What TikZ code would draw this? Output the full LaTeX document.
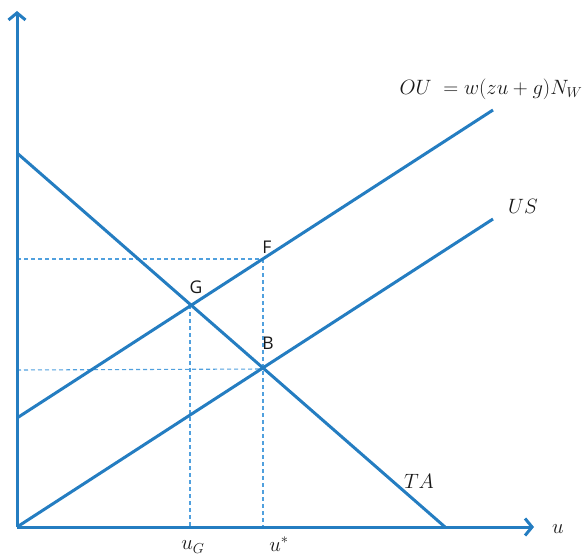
\documentclass[tikz,border=0pt]{standalone}
\usepackage{fontspec}
\setsansfont{Open Sans}
\usetikzlibrary{arrows.meta}
\definecolor{lineblue}{RGB}{36,125,193}
\definecolor{dashblue}{RGB}{80,160,222}
\tikzset{
  axis/.style={draw=lineblue, line width=3pt, -{Straight Barb[length=7pt,width=17pt,line width=3pt]}},
  curve/.style={draw=lineblue, line width=3pt},
  guide/.style={draw=dashblue, line width=1.1pt, dash pattern=on 4pt off 3pt},
  ptlabel/.style={font=\sffamily\fontsize{17.5}{17.5}\selectfont, text=black!90},
  mlabel/.style={font=\fontsize{19.5}{19.5}\selectfont, text=black!90},
}
\begin{document}
\begin{tikzpicture}[x=1pt,y=-1pt]
\useasboundingbox (0,0) rectangle (585,556);
% coordinates
\coordinate (O) at (17,527);
\coordinate (ytop) at (17,11);
\coordinate (xend) at (534,527);
\coordinate (TAs) at (17,153);
\coordinate (TAe) at (445,527);
\coordinate (OUs) at (17,418);
\coordinate (OUe) at (493,110);
\coordinate (USe) at (493,219);
\coordinate (G) at (190,305);
\coordinate (F) at (263,259);
\coordinate (B) at (263,369);
\coordinate (Gb) at (190,527);
\coordinate (Fb) at (263,527);
\coordinate (Fl) at (17,259);
\coordinate (Bl) at (17,370);
% guides
\draw[guide] (Fl) -- (F);
\draw[guide] (Bl) -- (B);
\draw[guide] (F) -- (Fb);
\draw[guide] (G) -- (Gb);
% lines
\draw[curve] (TAs) -- (TAe);
\draw[curve] (OUs) -- (OUe);
\draw[curve] (O) -- (USe);
% axes
\draw[axis] (O) -- (ytop);
\draw[axis] (O) -- (xend);
% labels
\node[ptlabel] (lF) at (267,247) {F};
\node[ptlabel] (lG) at (196,287) {G};
\node[ptlabel] (lB) at (268,343) {B};
\node[mlabel] (lTA) at (419,481) {$TA$};
\node[mlabel] (lUS) at (523,206) {$US$};
\node[mlabel] (lOU) at (491,89) {$OU\ = w(zu+g)N_W$};
\node[mlabel] (lu) at (558,529) {$u$};
\node[mlabel] (luG) at (193,547) {$u_G$};
\node[mlabel] (lus) at (279,544) {$u^*$};
\end{tikzpicture}
\end{document}
